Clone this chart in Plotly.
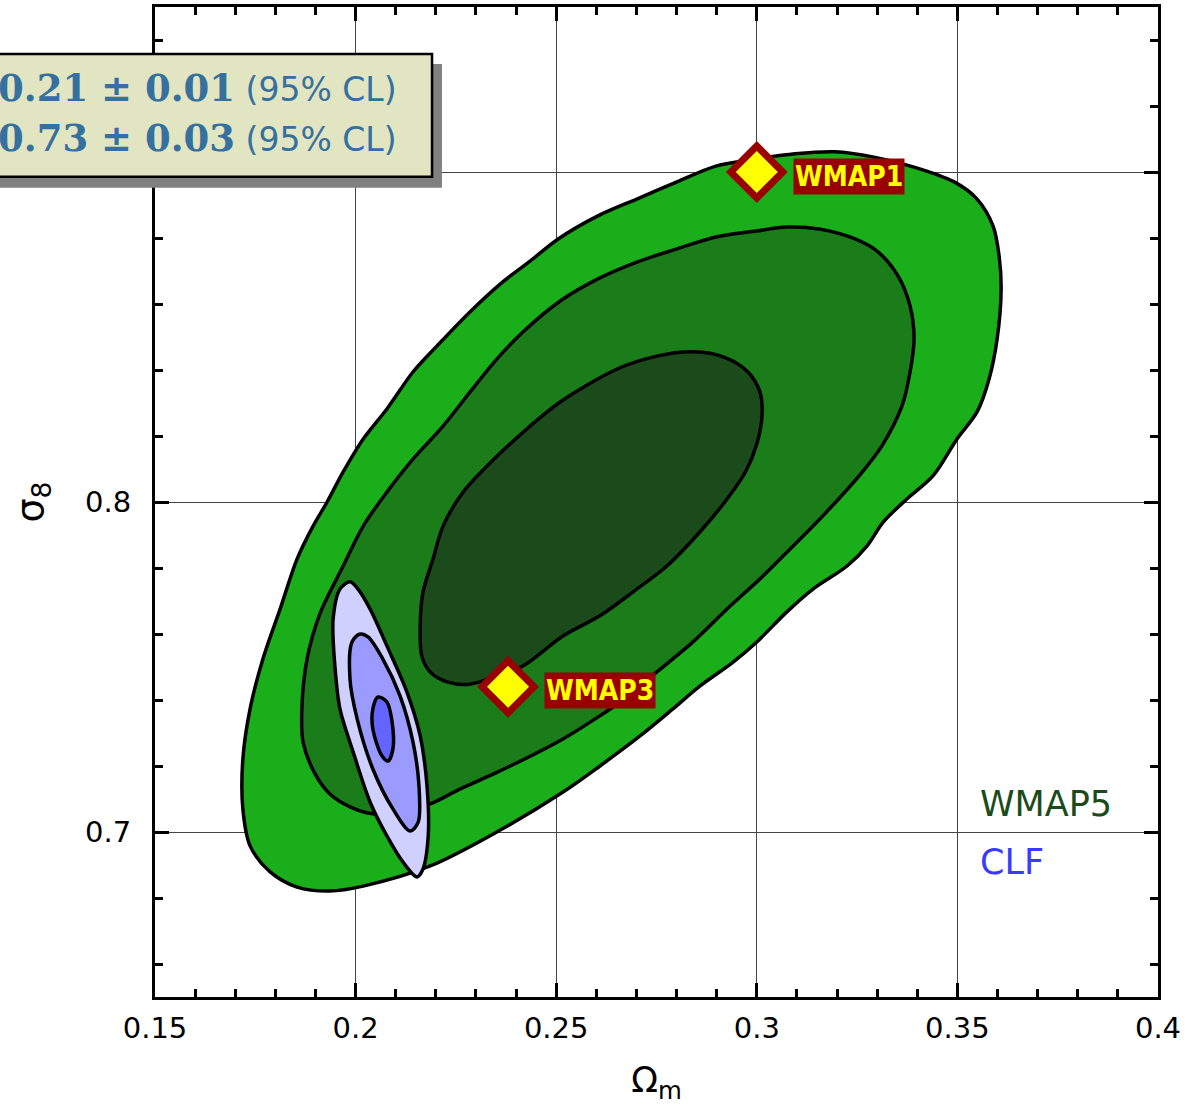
import plotly.graph_objects as go

# ---- WMAP5 contours (Omega_m, sigma_8) ----
wmap5_outer_x = [0.1719,0.1737,0.1769,0.1812,0.1854,0.1894,0.1929,0.1969,0.2019,0.2078,
                 0.2143,0.2203,0.2285,0.2367,0.2435,0.2505,0.2604,0.2701,0.2801,0.2898,
                 0.2998,0.3095,0.3195,0.3292,0.3392,0.3492,0.3549,0.3589,0.3604,0.3609,
                 0.3599,0.3579,0.3549,0.3499,0.3439,0.3374,0.3315,0.3275,0.3225,0.3140,
                 0.3075,0.3000,0.2941,0.2858,0.2791,0.2709,0.2609,0.2517,0.2352,0.2186,
                 0.2019,0.1936,0.1854,0.1787,0.1737,0.1719]
wmap5_outer_y = [0.7221,0.7373,0.7524,0.7676,0.7827,0.7927,0.8000,0.8091,0.8191,0.8282,
                 0.8394,0.8473,0.8576,0.8667,0.8730,0.8797,0.8867,0.8918,0.8970,0.9018,
                 0.9039,0.9055,0.9061,0.9045,0.9015,0.8970,0.8918,0.8836,0.8745,0.8645,
                 0.8494,0.8373,0.8273,0.8191,0.8079,0.8009,0.7939,0.7867,0.7806,0.7736,
                 0.7667,0.7576,0.7515,0.7442,0.7373,0.7291,0.7200,0.7121,0.7000,0.6897,
                 0.6836,0.6821,0.6833,0.6879,0.6958,0.7070]

wmap5_mid_x = [0.1869,0.1866,0.1879,0.1911,0.1969,0.2019,0.2078,0.2143,0.2218,0.2285,
               0.2352,0.2417,0.2510,0.2604,0.2701,0.2801,0.2898,0.2998,0.3075,0.3155,
               0.3245,0.3302,0.3352,0.3382,0.3392,0.3382,0.3362,0.3312,0.3255,0.3197,
               0.3133,0.3075,0.3008,0.2926,0.2841,0.2751,0.2659,0.2609,0.2517,0.2360,
               0.2260,0.2186,0.2111,0.2043,0.1986,0.1936,0.1899]
wmap5_mid_y = [0.7273,0.7373,0.7524,0.7661,0.7806,0.7927,0.8030,0.8130,0.8230,0.8333,
               0.8433,0.8515,0.8609,0.8676,0.8727,0.8767,0.8803,0.8821,0.8833,0.8827,
               0.8797,0.8758,0.8685,0.8594,0.8494,0.8394,0.8291,0.8170,0.8079,0.8000,
               0.7918,0.7848,0.7767,0.7676,0.7576,0.7485,0.7394,0.7352,0.7282,0.7185,
               0.7130,0.7085,0.7061,0.7055,0.7076,0.7115,0.7176]

wmap5_in_x = [0.2161,0.2168,0.2193,0.2218,0.2268,0.2340,0.2435,0.2510,0.2652,0.2751,
              0.2841,0.2918,0.2978,0.3008,0.3013,0.3000,0.2973,0.2926,0.2858,0.2776,
              0.2691,0.2609,0.2517,0.2417,0.2352,0.2285,0.2228,0.2186,0.2165]
wmap5_in_y = [0.7624,0.7727,0.7827,0.7927,0.8030,0.8124,0.8230,0.8303,0.8403,0.8442,
              0.8455,0.8439,0.8394,0.8333,0.8261,0.8176,0.8094,0.8009,0.7909,0.7806,
              0.7727,0.7655,0.7594,0.7503,0.7473,0.7448,0.7455,0.7485,0.7533]

# ---- CLF contours ----
clf_outer_x = [0.1986,0.1961,0.1944,0.1949,0.1961,0.1994,0.2036,0.2078,0.2118,0.2153,
               0.2168,0.2181,0.2178,0.2161,0.2128,0.2078,0.2036,0.2006]
clf_outer_y = [0.7758,0.7736,0.7645,0.7494,0.7373,0.7242,0.7091,0.6988,0.6909,0.6864,
               0.6888,0.6988,0.7139,0.7291,0.7424,0.7564,0.7676,0.7736]

clf_mid_x = [0.2011,0.1991,0.1986,0.2004,0.2043,0.2093,0.2136,0.2156,0.2158,0.2143,
             0.2111,0.2068,0.2031]
clf_mid_y = [0.7600,0.7576,0.7464,0.7342,0.7191,0.7070,0.7003,0.7030,0.7139,0.7273,
             0.7412,0.7524,0.7591]

clf_in_x = [0.2056,0.2043,0.2043,0.2066,0.2081,0.2093,0.2091,0.2078]
clf_in_y = [0.7409,0.7373,0.7312,0.7230,0.7215,0.7251,0.7333,0.7394]

# ---- WMAP points ----
wmap_names = ["WMAP1", "WMAP3"]
wmap_om = [0.300, 0.238]
wmap_s8 = [0.900, 0.744]

# ---- text ----
box_lines = ["Ω<sub>m</sub> = 0.21 ± 0.01", "σ<sub>8</sub> = 0.73 ± 0.03"]
box_suffix = " (95% CL)"
legend_names = ["WMAP5", "CLF"]

GREENS = ["#1aaf1a", "#1a7d1a", "#1b4b1b"]
BLUES = ["#d0d0ff", "#9a9aff", "#6464ff"]


def closed(v):
    return list(v) + [v[0]]


fig = go.Figure()
contours = [
    (wmap5_outer_x, wmap5_outer_y, GREENS[0]),
    (wmap5_mid_x, wmap5_mid_y, GREENS[1]),
    (wmap5_in_x, wmap5_in_y, GREENS[2]),
    (clf_outer_x, clf_outer_y, BLUES[0]),
    (clf_mid_x, clf_mid_y, BLUES[1]),
    (clf_in_x, clf_in_y, BLUES[2]),
]
for xs, ys, fc in contours:
    fig.add_trace(go.Scatter(
        x=closed(xs), y=closed(ys), mode="lines", fill="toself", fillcolor=fc,
        line=dict(color="black", width=3.5, shape="spline", smoothing=0.9),
        hoverinfo="skip", showlegend=False))

fig.add_trace(go.Scatter(
    x=wmap_om, y=wmap_s8, mode="markers",
    marker=dict(symbol="diamond", size=40, color="#ffff00",
                line=dict(color="#990000", width=7)),
    showlegend=False, hoverinfo="skip"))

for name, xo, yo in zip(wmap_names, wmap_om, wmap_s8):
    fig.add_annotation(
        x=xo, y=yo, xref="x", yref="y", text="<b>" + name + "</b>", showarrow=False,
        xanchor="left", yanchor="middle", xshift=36, yshift=-4,
        bgcolor="#990000", borderpad=1,
        font=dict(family="DejaVu Sans Condensed, DejaVu Sans", size=28, color="#ffff00"))

# legend-like labels
fig.add_annotation(x=0.8205, y=0.1948, xref="paper", yref="paper", text=legend_names[0],
                   showarrow=False, xanchor="left", yanchor="middle",
                   font=dict(family="DejaVu Sans", size=35, color="#1b4b1b"))
fig.add_annotation(x=0.8205, y=0.1362, xref="paper", yref="paper", text=legend_names[1],
                   showarrow=False, xanchor="left", yanchor="middle",
                   font=dict(family="DejaVu Sans", size=35, color="#3a3aff"))

# results box (shadow + box), partly off the left edge
fig.add_shape(type="rect", xref="paper", yref="paper", x0=-0.3, x1=0.2861, y0=0.8174, y1=0.9425,
              fillcolor="#808080", line=dict(width=0), layer="above")
fig.add_shape(type="rect", xref="paper", yref="paper", x0=-0.3, x1=0.2762, y0=0.8285, y1=0.9526,
              fillcolor="#e1e5c1", line=dict(color="black", width=2.5), layer="above")
box_y = [0.9155, 0.8655]
for line, yy in zip(box_lines, box_y):
    fig.add_annotation(
        x=0.2433, y=yy, xref="paper", yref="paper", showarrow=False,
        xanchor="right", yanchor="middle",
        text='<span style="font-family:\'DejaVu Serif\';font-size:37px"><b>' + line + '</b></span>' + box_suffix,
        font=dict(family="DejaVu Sans", size=33, color="#36709e"))

axis_common = dict(
    showline=True, linecolor="black", linewidth=3, mirror="ticks",
    ticks="inside", ticklen=14, tickwidth=2.5, tickcolor="black",
    showgrid=True, gridcolor="#444444", gridwidth=1, zeroline=False,
    tickfont=dict(family="DejaVu Sans", size=29, color="black"),
)

fig.update_xaxes(
    range=[0.15, 0.4], tick0=0.15, dtick=0.05,
    minor=dict(dtick=0.01, ticks="inside", ticklen=8, tickwidth=2.5, tickcolor="black", showgrid=False),
    ticklabelstandoff=3,
    title=dict(text="Ω<sub>m</sub>", font=dict(family="DejaVu Sans", size=35, color="black"), standoff=24),
    **axis_common)
fig.update_yaxes(
    range=[0.65, 0.95], tick0=0.7, dtick=0.1,
    minor=dict(dtick=0.02, ticks="inside", ticklen=8, tickwidth=2.5, tickcolor="black", showgrid=False),
    ticklabelstandoff=15,
    title=dict(text="σ<sub>8</sub>", font=dict(family="DejaVu Sans", size=38, color="black"), standoff=30),
    **axis_common)

fig.update_layout(
    width=1185, height=1116,
    margin=dict(l=155, r=27, t=7, b=119, autoexpand=False),
    plot_bgcolor="white", paper_bgcolor="white",
    showlegend=False,
)

fig.write_html("out.html")
